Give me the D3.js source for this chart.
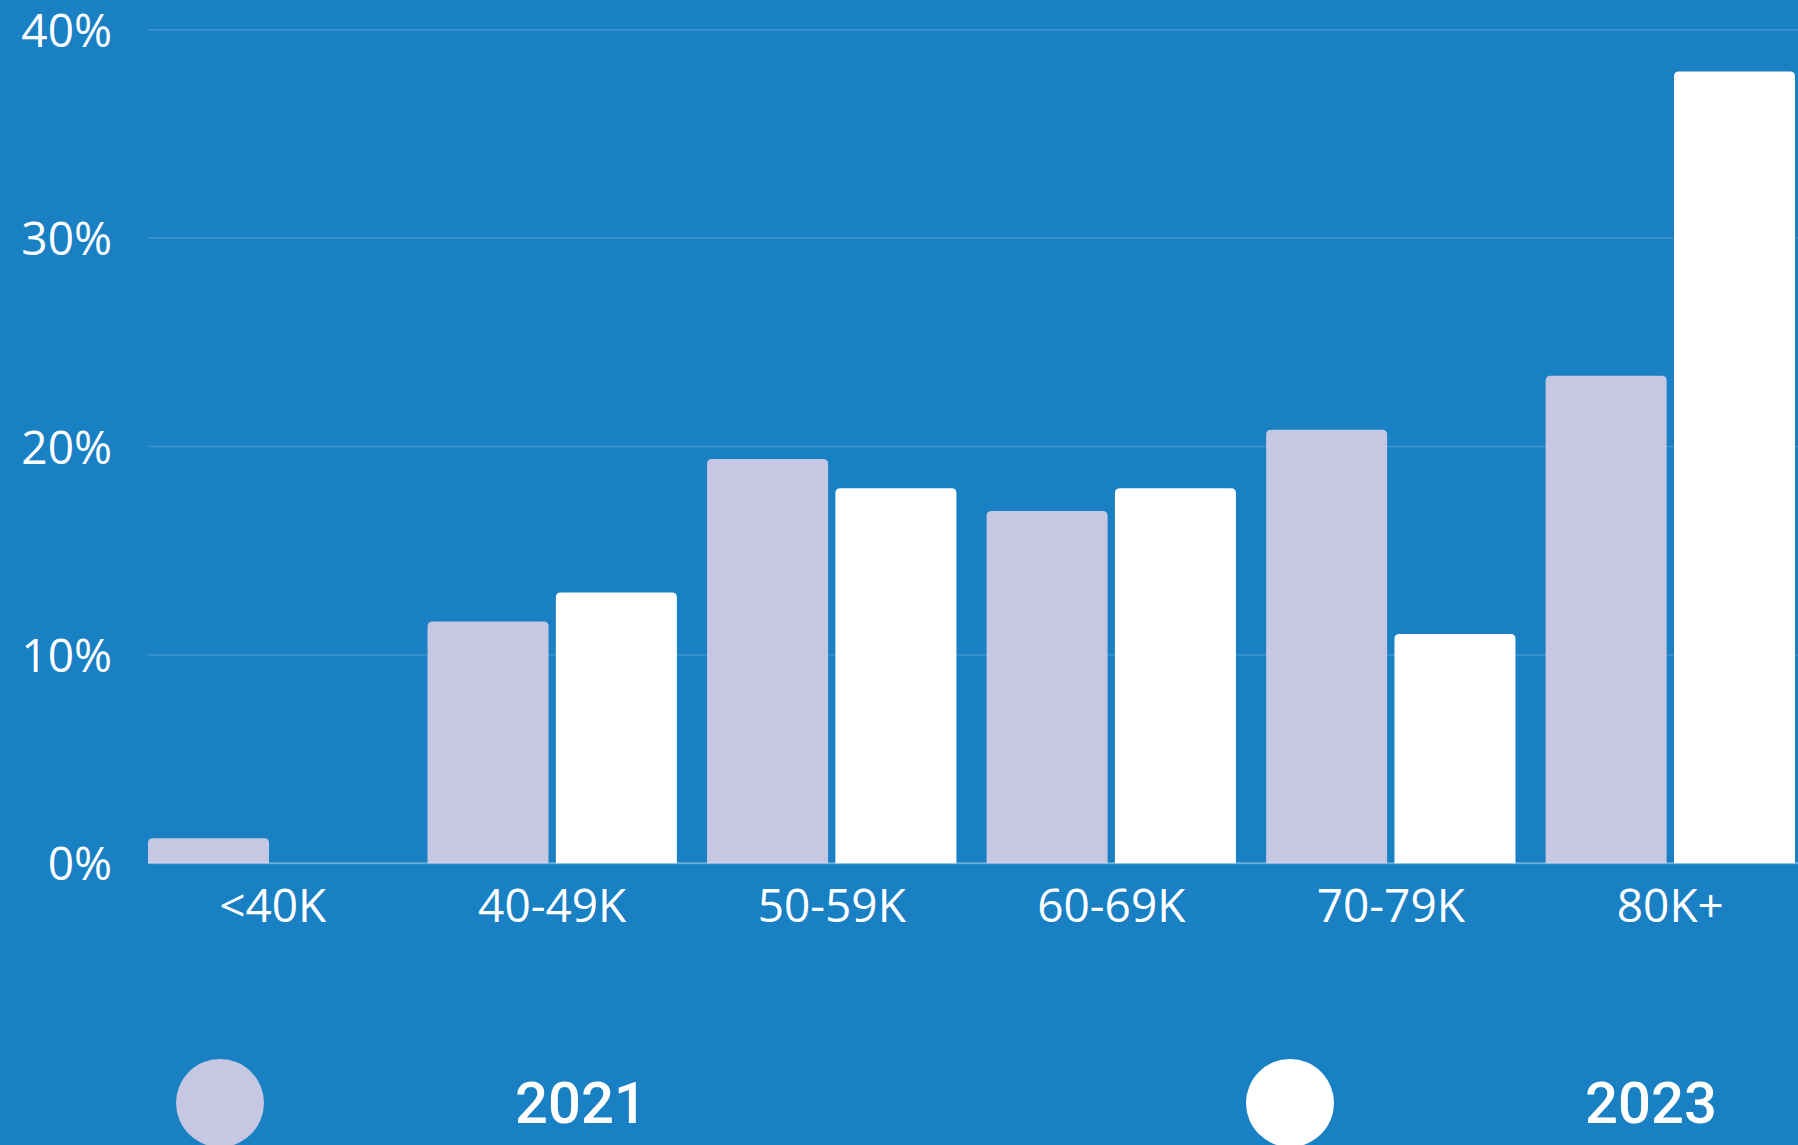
<!DOCTYPE html>
<html>
<head>
<meta charset="utf-8">
<script src="https://cdn.jsdelivr.net/npm/d3@7"></script>
<style>
  html, body { margin: 0; padding: 0; background: #1980c3; overflow: hidden; }
  svg { display: block; }
  .tick-label { fill: #fff; font-family: "Open Sans", sans-serif; font-size: 46px; }
  .legend-label { fill: #fff; font-family: Roboto, sans-serif; font-size: 58px; font-weight: 500; }
</style>
</head>
<body>
<div id="chart"></div>
<script>
const categories = ["<40K", "40-49K", "50-59K", "60-69K", "70-79K", "80K+"];
const years = ["2021", "2023"];
const values2021 = [1.2, 11.6, 19.4, 16.9, 20.8, 23.4];
const values2023 = [0, 13.0, 18.0, 18.0, 11.0, 38.0];
const yTicks = [0, 10, 20, 30, 40];

const WIDTH = 1798;
const HEIGHT = 1145;
const PLOT = { left: 148, right: 1795, top: 29.7, bottom: 863.3 };
const COLORS = { "2021": "#c5c7e3", "2023": "#ffffff" };
const RADIUS = 5;

const rows = categories.map((c, i) => ({
  category: c,
  "2021": values2021[i],
  "2023": values2023[i],
}));

const svg = d3.select("#chart")
  .append("svg")
  .attr("width", WIDTH)
  .attr("height", HEIGHT);

svg.append("rect")
  .attr("width", WIDTH)
  .attr("height", HEIGHT)
  .attr("fill", "#1980c3");

const x0 = d3.scaleBand()
  .domain(categories)
  .range([PLOT.left, PLOT.right])
  .paddingInner(0.108)
  .paddingOuter(0);

const x1 = d3.scaleBand()
  .domain(years)
  .range([0, x0.bandwidth()])
  .paddingInner(0.057);

const y = d3.scaleLinear()
  .domain([0, 40])
  .range([PLOT.bottom, PLOT.top]);

// gridlines
svg.append("g")
  .selectAll("line")
  .data(yTicks)
  .join("line")
  .attr("x1", PLOT.left)
  .attr("x2", WIDTH)
  .attr("y1", (d) => y(d))
  .attr("y2", (d) => y(d))
  .attr("stroke", "rgba(255,255,255,0.16)")
  .attr("stroke-width", 1.5);

// y tick labels
svg.append("g")
  .selectAll("text")
  .data(yTicks)
  .join("text")
  .attr("class", "tick-label")
  .attr("x", 112)
  .attr("y", (d) => y(d) + 17)
  .attr("text-anchor", "end")
  .text((d) => `${d}%`);

// bars with rounded tops
function topRounded(x, yTop, w, h, r) {
  if (h <= 0) return "";
  const rr = Math.min(r, h, w / 2);
  return `M${x},${yTop + h}V${yTop + rr}Q${x},${yTop} ${x + rr},${yTop}` +
    `H${x + w - rr}Q${x + w},${yTop} ${x + w},${yTop + rr}V${yTop + h}Z`;
}

const groups = svg.append("g")
  .selectAll("g")
  .data(rows)
  .join("g")
  .attr("transform", (d) => `translate(${x0(d.category)},0)`);

groups.selectAll("path")
  .data((d) => years.map((yr) => ({ year: yr, value: d[yr] })))
  .join("path")
  .attr("fill", (d) => COLORS[d.year])
  .attr("d", (d) =>
    topRounded(x1(d.year), y(d.value), x1.bandwidth(), y(0) - y(d.value), RADIUS)
  );

// baseline
svg.append("line")
  .attr("x1", PLOT.left)
  .attr("x2", WIDTH)
  .attr("y1", y(0))
  .attr("y2", y(0))
  .attr("stroke", "rgba(255,255,255,0.25)")
  .attr("stroke-width", 2);

// x labels
svg.append("g")
  .selectAll("text")
  .data(categories)
  .join("text")
  .attr("class", "tick-label")
  .attr("x", (d) => x0(d) + x0.bandwidth() / 2)
  .attr("y", y(0) + 59)
  .attr("text-anchor", "middle")
  .text((d) => d);

// legend
const legend = svg.append("g")
  .selectAll("g")
  .data(years)
  .join("g")
  .attr("transform", (d, i) => `translate(${220 + i * 1070},1103)`);

legend.append("circle")
  .attr("r", 44)
  .attr("fill", (d) => COLORS[d]);

legend.append("text")
  .attr("class", "legend-label")
  .attr("x", 295)
  .attr("y", 20)
  .text((d) => d);
</script>
</body>
</html>
